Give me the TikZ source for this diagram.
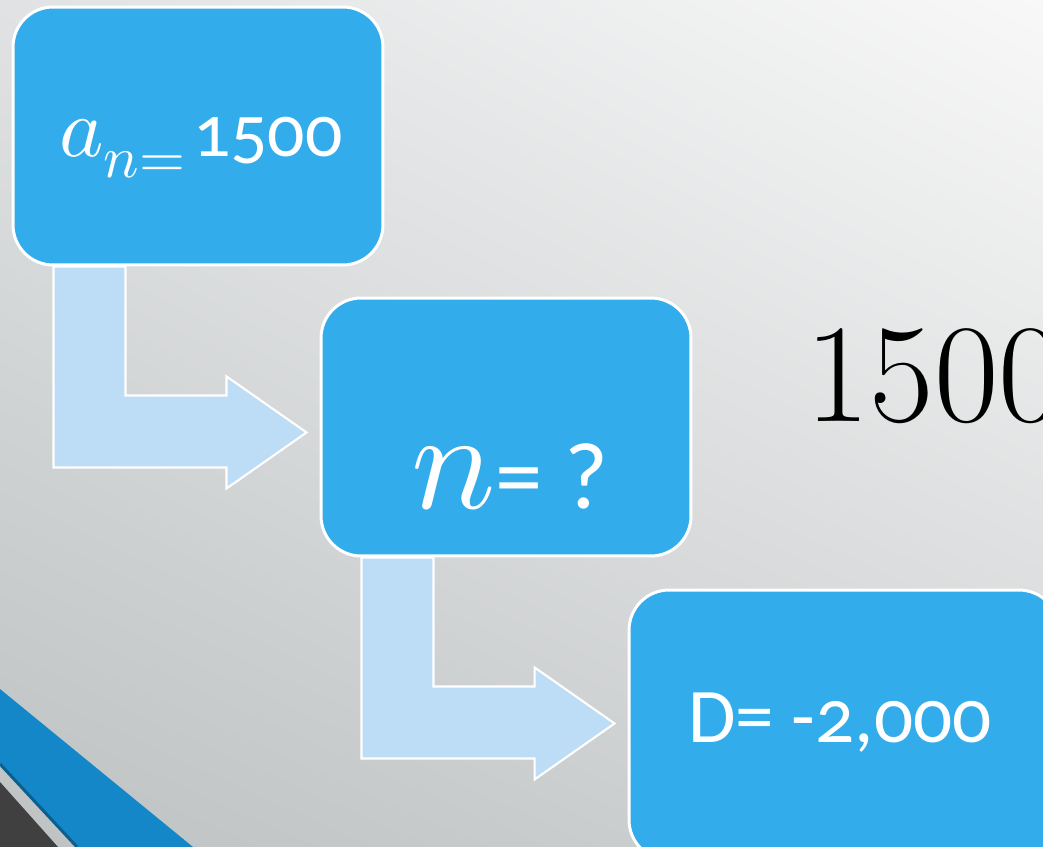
\documentclass[tikz,border=0pt]{standalone}
\usepackage{fontspec}
\usepackage{unicode-math}
\setmathfont{Latin Modern Math}
\newfontfamily\boxfont[Numbers=OldStyle]{Carlito}
\usetikzlibrary{calc,shadings}

\definecolor{boxblue}{HTML}{33ACEB}
\definecolor{arrowblue}{HTML}{BDDCF5}
\definecolor{bandblue}{HTML}{1387C7}
\definecolor{banddark}{HTML}{0B5F8F}
\definecolor{cornergray}{HTML}{404040}
\definecolor{bglight}{HTML}{F8F8F8}
\definecolor{bgdark}{HTML}{BEC2C3}
\definecolor{bgtopleft}{HTML}{E0E2E3}
\definecolor{bgbotright}{HTML}{D2D4D5}

\tikzset{
  stepbox/.style={draw=white, line width=1.7pt, fill=boxblue, rounded corners=0.8cm,
    minimum width=7.4cm, minimum height=5.16cm, inner sep=0pt},
  bentarrow/.style={draw=white, line width=1.2pt, fill=arrowblue, line join=miter},
  boxtext/.style={text=white, inner sep=0pt, anchor=base}
}

% bent arrow from the bottom of #1 to the left side of #2
\newcommand{\bentarrow}[2]{%
  \path (#1.south west) coordinate (s) ($(#2.west |- s)+(-13,166)$) coordinate (t);
  \draw[bentarrow] ($(s)+(42,0)$) -- ($(s)+(114,0)$) |- ($(t)+(-80,-37)$) -- ++(0,-19)
    -- (t) -- ++(-80,56) -- ++(0,-21) -| ($(s)+(42,0)$) -- cycle;
}

\begin{document}
\begin{tikzpicture}[x=0.02cm, y=-0.02cm]
  \useasboundingbox (0,0) rectangle (1043,847);
  \shade[upper left=bgtopleft, upper right=bglight, lower left=bgdark, lower right=bgbotright]
    (0,0) rectangle (1043,847);

  % corner band
  \fill[bandblue] (0,689) -- (193,847) -- (78,847) -- (0,763) -- cycle;
  \draw[banddark, line width=1.7pt] (0,764) -- (77,847);
  \fill[cornergray] (0,782) -- (58,847) -- (0,847) -- cycle;

  \node[stepbox] (an) at (198,136) {};
  \node[stepbox] (nq) at (506,427) {};
  \node[stepbox, minimum width=8.6cm, minimum height=5.4cm] (dd) at (844,725) {};

  \bentarrow{an}{nq}
  \bentarrow{nq}{dd}

  \node[boxtext] (antext) at ($(an.center)+(3,21)$)
    {\fontsize{48}{50}\selectfont$a_{n=}$\hspace{4pt}{\boxfont\fontsize{42}{46}\selectfont 1500}};
  \node[boxtext] (nqtext) at ($(nq.center)+(4,81)$)
    {\fontsize{80}{84}\selectfont$n${\boxfont\fontsize{54}{58}\selectfont= ?}};
  \node[boxtext] (ddtext) at ($(dd.center)+(-4,17)$)
    {\boxfont\fontsize{44}{48}\selectfont D= -2,000};

  \node[anchor=base west, inner sep=0pt, font=\fontsize{80}{84}\selectfont] (eq) at (805,421) {1500};
\end{tikzpicture}
\end{document}
